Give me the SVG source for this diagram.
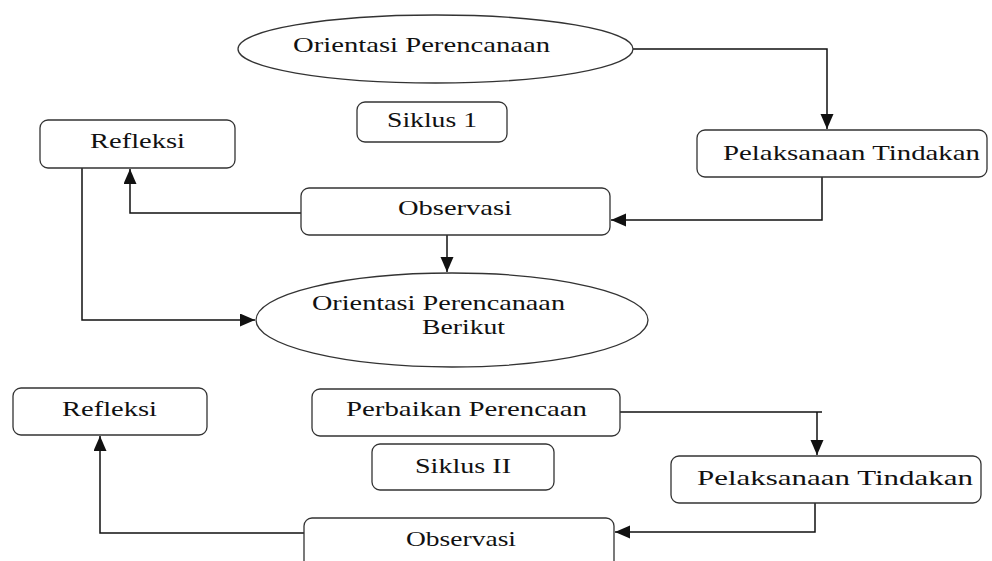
<svg xmlns="http://www.w3.org/2000/svg" width="992" height="561" viewBox="0 0 992 561">
<defs>
<style>
.box{fill:#fff;stroke:#333;stroke-width:1.3}
.t{font-family:"Liberation Serif","Times New Roman",serif;font-size:22px;fill:#111}
.s{font-size:21px}
.c{fill:none;stroke:#111;stroke-width:1.5}
</style>
<marker id="ah" markerUnits="userSpaceOnUse" markerWidth="16" markerHeight="14" refX="15" refY="6.5" orient="auto">
<path d="M0,0 L15,6.5 L0,13 Z" fill="#111"/>
</marker>
</defs>
<rect width="992" height="561" fill="#fff"/>
<g id="connectors">
<path class="c" d="M633,49 H827 V129" marker-end="url(#ah)"/>
<path class="c" d="M822,177 V220 H611" marker-end="url(#ah)"/>
<path class="c" d="M301,213 H130 V169" marker-end="url(#ah)"/>
<path class="c" d="M447,235 V272" marker-end="url(#ah)"/>
<path class="c" d="M82,168 V320 H255" marker-end="url(#ah)"/>
<path class="c" d="M620,412 H822"/>
<path class="c" d="M817,412 V455" marker-end="url(#ah)"/>
<path class="c" d="M815,503 V532 H615" marker-end="url(#ah)"/>
<path class="c" d="M304,533 H100 V436" marker-end="url(#ah)"/>
</g>
<g id="orientasi1">
<ellipse class="box" cx="435.5" cy="49" rx="197.5" ry="34"/>
<text class="t" x="293" y="52" textLength="257" lengthAdjust="spacingAndGlyphs">Orientasi Perencanaan</text>
</g>
<g id="siklus1">
<rect class="box" x="357" y="102" width="150" height="40" rx="8"/>
<text class="t" x="387" y="127" textLength="90" lengthAdjust="spacingAndGlyphs">Siklus 1</text>
</g>
<g id="refleksi1">
<rect class="box" x="40" y="120" width="195" height="48" rx="8"/>
<text class="t" x="90" y="148" textLength="95" lengthAdjust="spacingAndGlyphs">Refleksi</text>
</g>
<g id="pelaksanaan1">
<rect class="box" x="697" y="130" width="290" height="47" rx="8"/>
<text class="t" x="723" y="160" textLength="257" lengthAdjust="spacingAndGlyphs">Pelaksanaan Tindakan</text>
</g>
<g id="observasi1">
<rect class="box" x="301" y="188" width="309" height="47" rx="8"/>
<text class="t" x="398" y="215" textLength="114" lengthAdjust="spacingAndGlyphs">Observasi</text>
</g>
<g id="orientasi2">
<ellipse class="box" cx="452" cy="320" rx="196" ry="47"/>
<text class="t s" x="312" y="310" textLength="253" lengthAdjust="spacingAndGlyphs">Orientasi Perencanaan</text>
<text class="t s" x="422" y="334" textLength="83" lengthAdjust="spacingAndGlyphs">Berikut</text>
</g>
<g id="refleksi2">
<rect class="box" x="13" y="388" width="194" height="47" rx="8"/>
<text class="t" x="62" y="416" textLength="95" lengthAdjust="spacingAndGlyphs">Refleksi</text>
</g>
<g id="perbaikan">
<rect class="box" x="312" y="389" width="308" height="47" rx="8"/>
<text class="t" x="346" y="416" textLength="241" lengthAdjust="spacingAndGlyphs">Perbaikan Perencaan</text>
</g>
<g id="siklus2">
<rect class="box" x="372" y="444" width="182" height="46" rx="8"/>
<text class="t" x="415" y="473" textLength="96" lengthAdjust="spacingAndGlyphs">Siklus II</text>
</g>
<g id="pelaksanaan2">
<rect class="box" x="671" y="456" width="310" height="47" rx="8"/>
<text class="t" x="697" y="485" textLength="276" lengthAdjust="spacingAndGlyphs">Pelaksanaan Tindakan</text>
</g>
<g id="observasi2">
<rect class="box" x="304" y="518" width="310" height="60" rx="8"/>
<text class="t" x="406" y="546" textLength="110" lengthAdjust="spacingAndGlyphs">Observasi</text>
</g>
</svg>
